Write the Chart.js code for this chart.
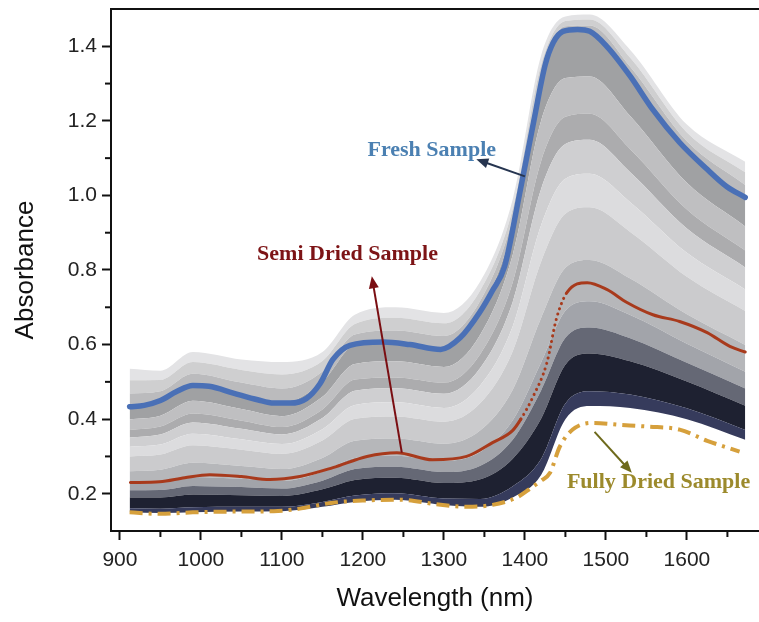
<!DOCTYPE html>
<html><head><meta charset="utf-8">
<script src="https://cdn.jsdelivr.net/npm/chart.js@4.4.1/dist/chart.umd.min.js"></script>
<style>html,body{margin:0;padding:0;background:#fff;}canvas{display:block}</style>
</head><body>
<canvas id="c" width="759" height="622"></canvas>
<script>
// ---- tick labels ----
const xTicks = [900, 1000, 1100, 1200, 1300, 1400, 1500, 1600];
const xMinorTicks = [950, 1050, 1150, 1250, 1350, 1450, 1550, 1650];
const yTicks = [0.2, 0.4, 0.6, 0.8, 1.0, 1.2, 1.4];
const yMinorTicks = [0.3, 0.5, 0.7, 0.9, 1.1, 1.3];

// ---- highlighted spectra ----
const freshX = [912, 930, 950, 970, 990, 1010, 1040, 1070, 1090, 1110, 1130, 1147, 1163, 1184, 1225, 1258, 1296, 1320, 1344, 1360, 1375, 1393, 1411, 1425, 1435, 1447, 1465, 1480, 1501, 1530, 1558, 1591, 1625, 1649, 1672];
const freshY = [0.433, 0.437, 0.450, 0.474, 0.490, 0.488, 0.470, 0.452, 0.443, 0.443, 0.455, 0.495, 0.560, 0.598, 0.607, 0.600, 0.587, 0.618, 0.686, 0.745, 0.810, 1.000, 1.200, 1.350, 1.410, 1.440, 1.445, 1.440, 1.400, 1.320, 1.230, 1.142, 1.070, 1.024, 0.995];

const semiX = [913, 949, 980, 1011, 1050, 1085, 1122, 1163, 1205, 1242, 1286, 1328, 1360, 1385, 1395, 1410, 1427, 1439, 1452, 1477, 1501, 1526, 1558, 1591, 1625, 1653, 1672];
const semiY = [0.230, 0.232, 0.243, 0.251, 0.246, 0.238, 0.246, 0.270, 0.300, 0.310, 0.291, 0.300, 0.337, 0.370, 0.400, 0.460, 0.550, 0.670, 0.740, 0.766, 0.748, 0.713, 0.680, 0.662, 0.632, 0.595, 0.580];

const driedX = [912, 950, 990, 1040, 1090, 1122, 1163, 1205, 1246, 1290, 1328, 1360, 1390, 1404, 1420, 1431, 1443, 1459, 1484, 1517, 1551, 1591, 1625, 1665];
const driedY = [0.150, 0.146, 0.150, 0.152, 0.153, 0.160, 0.176, 0.182, 0.184, 0.172, 0.165, 0.170, 0.190, 0.210, 0.235, 0.256, 0.326, 0.372, 0.390, 0.385, 0.380, 0.372, 0.342, 0.313];

// ---- background gray spectra (bottom to top) ----
const grayX = [912, 950, 990, 1050, 1100, 1150, 1190, 1240, 1300, 1345, 1385, 1420, 1450, 1480, 1530, 1600, 1672];
const gray00 = [0.150, 0.148, 0.150, 0.152, 0.153, 0.165, 0.178, 0.184, 0.170, 0.165, 0.190, 0.250, 0.400, 0.435, 0.430, 0.400, 0.345];
const gray01 = [0.161, 0.160, 0.164, 0.165, 0.165, 0.178, 0.195, 0.201, 0.187, 0.186, 0.220, 0.293, 0.442, 0.475, 0.466, 0.429, 0.371];
const gray02 = [0.190, 0.190, 0.198, 0.196, 0.194, 0.212, 0.237, 0.243, 0.229, 0.239, 0.294, 0.401, 0.546, 0.576, 0.555, 0.501, 0.436];
const gray03 = [0.209, 0.210, 0.221, 0.218, 0.214, 0.235, 0.266, 0.272, 0.258, 0.275, 0.345, 0.477, 0.618, 0.646, 0.617, 0.551, 0.482];
const gray04 = [0.229, 0.231, 0.245, 0.240, 0.234, 0.259, 0.296, 0.302, 0.288, 0.312, 0.397, 0.552, 0.691, 0.716, 0.679, 0.602, 0.527];
const gray05 = [0.260, 0.264, 0.283, 0.274, 0.266, 0.296, 0.342, 0.348, 0.334, 0.370, 0.479, 0.671, 0.806, 0.827, 0.777, 0.681, 0.599];
const gray06 = [0.300, 0.305, 0.330, 0.318, 0.307, 0.343, 0.401, 0.407, 0.393, 0.443, 0.582, 0.822, 0.951, 0.968, 0.902, 0.782, 0.690];
const gray07 = [0.326, 0.332, 0.361, 0.346, 0.333, 0.373, 0.438, 0.445, 0.430, 0.491, 0.649, 0.920, 1.045, 1.058, 0.982, 0.846, 0.748];
const gray08 = [0.351, 0.359, 0.391, 0.374, 0.359, 0.403, 0.476, 0.483, 0.468, 0.538, 0.715, 1.017, 1.138, 1.149, 1.062, 0.911, 0.807];
const gray09 = [0.371, 0.380, 0.415, 0.396, 0.379, 0.426, 0.506, 0.512, 0.498, 0.575, 0.767, 1.092, 1.211, 1.219, 1.124, 0.962, 0.852];
const gray10 = [0.399, 0.409, 0.449, 0.427, 0.408, 0.460, 0.548, 0.555, 0.540, 0.627, 0.841, 1.200, 1.315, 1.319, 1.213, 1.034, 0.917];
const gray11 = [0.433, 0.445, 0.490, 0.465, 0.443, 0.500, 0.598, 0.605, 0.590, 0.690, 0.915, 1.300, 1.440, 1.440, 1.320, 1.120, 0.995];
const gray12 = [0.469, 0.475, 0.522, 0.498, 0.482, 0.528, 0.627, 0.638, 0.623, 0.718, 0.940, 1.325, 1.454, 1.456, 1.345, 1.145, 1.028];
const gray13 = [0.504, 0.505, 0.553, 0.532, 0.520, 0.556, 0.655, 0.672, 0.657, 0.746, 0.964, 1.350, 1.468, 1.472, 1.369, 1.169, 1.062];
const gray14 = [0.535, 0.530, 0.580, 0.560, 0.553, 0.580, 0.680, 0.700, 0.685, 0.770, 0.990, 1.375, 1.480, 1.485, 1.390, 1.190, 1.090];

const grayCurves = [gray00, gray01, gray02, gray03, gray04, gray05, gray06, gray07, gray08, gray09, gray10, gray11, gray12, gray13, gray14];
const grayFills = [null, '#363b5c', '#1e2131', '#656875', '#a2a4aa', '#b6b7ba', '#cbcbcd', '#dcdcde', '#cfcfd1', '#acacae', '#bfbfc1', '#a0a1a3', '#bbbbbd', '#cfcfd0', '#e3e3e5'];

const toXY = (xs, ys) => xs.map((x, i) => ({x: x, y: ys[i]}));

const datasets = grayCurves.map((c, i) => ({
  data: toXY(grayX, c),
  fill: i === 0 ? false : '-1',
  backgroundColor: grayFills[i] || 'rgba(0,0,0,0)',
  borderWidth: 0,
  borderColor: 'rgba(0,0,0,0)',
  pointRadius: 0,
  cubicInterpolationMode: 'monotone',
  order: 10
}));

datasets.push({
  data: toXY(freshX, freshY), borderColor: '#4a70b6', borderWidth: 5.5,
  pointRadius: 0, fill: false, cubicInterpolationMode: 'monotone', borderCapStyle: 'round', order: 0
});
datasets.push({
  data: toXY(semiX, semiY), borderColor: '#a83a1c', borderWidth: 3,
  pointRadius: 0, fill: false, cubicInterpolationMode: 'monotone', borderCapStyle: 'round', order: 1,
  segment: { borderDash: ctx => (ctx.p0.parsed.x >= 1395 && ctx.p1.parsed.x <= 1452) ? [0.1, 5.5] : undefined }
});
datasets.push({
  data: toXY(driedX, driedY), borderColor: '#d6a03c', borderWidth: 4, borderDash: [13, 6, 3, 6],
  pointRadius: 0, fill: false, cubicInterpolationMode: 'monotone', order: 2
});

// annotation texts and arrows (data coordinates)
const notes = [
  { text: 'Fresh Sample', x: 1285, y: 1.105, color: '#4b80b2', from: [1400, 1.051], to: [1340, 1.097], arrow: '#263550' },
  { text: 'Semi Dried Sample', x: 1181, y: 0.828, color: '#7d1416', from: [1248, 0.310], to: [1211, 0.783], arrow: '#7a0e12' },
  { text: 'Fully Dried Sample', x: 1565, y: 0.216, color: '#9c8a2c', from: [1486, 0.366], to: [1532, 0.256], arrow: '#6e6a1c' }
];

const decor = {
  id: 'decor',
  afterDraw(chart) {
    const ctx = chart.ctx, a = chart.chartArea, xs = chart.scales.x, ys = chart.scales.y;
    ctx.save();
    ctx.strokeStyle = '#111'; ctx.lineWidth = 2;
    ctx.beginPath(); ctx.moveTo(a.left - 1, a.top); ctx.lineTo(a.right, a.top); ctx.stroke();
    xMinorTicks.forEach(v => { const p = xs.getPixelForValue(v); ctx.beginPath(); ctx.moveTo(p, a.bottom); ctx.lineTo(p, a.bottom + 6); ctx.stroke(); });
    yMinorTicks.forEach(v => { const p = ys.getPixelForValue(v); ctx.beginPath(); ctx.moveTo(a.left, p); ctx.lineTo(a.left - 6, p); ctx.stroke(); });
    notes.forEach(n => {
      const x0 = xs.getPixelForValue(n.from[0]), y0 = ys.getPixelForValue(n.from[1]);
      const x1 = xs.getPixelForValue(n.to[0]), y1 = ys.getPixelForValue(n.to[1]);
      const ang = Math.atan2(y1 - y0, x1 - x0), L = 12, W = 5;
      ctx.strokeStyle = n.arrow; ctx.fillStyle = n.arrow; ctx.lineWidth = 2;
      ctx.beginPath(); ctx.moveTo(x0, y0);
      ctx.lineTo(x1 - Math.cos(ang) * L * 0.8, y1 - Math.sin(ang) * L * 0.8); ctx.stroke();
      ctx.beginPath(); ctx.moveTo(x1, y1);
      ctx.lineTo(x1 - Math.cos(ang) * L + Math.sin(ang) * W, y1 - Math.sin(ang) * L - Math.cos(ang) * W);
      ctx.lineTo(x1 - Math.cos(ang) * L - Math.sin(ang) * W, y1 - Math.sin(ang) * L + Math.cos(ang) * W);
      ctx.closePath(); ctx.fill();
      ctx.font = 'bold 22px "Liberation Serif", "Times New Roman", serif';
      ctx.fillStyle = n.color; ctx.textAlign = 'center'; ctx.textBaseline = 'alphabetic';
      ctx.fillText(n.text, xs.getPixelForValue(n.x), ys.getPixelForValue(n.y));
    });
    ctx.restore();
  }
};

const tickFont = { family: '"Liberation Sans", Arial, sans-serif', size: 21 };
const titleFont = { family: '"Liberation Sans", Arial, sans-serif', size: 26 };

new Chart(document.getElementById('c'), {
  type: 'line',
  data: { datasets: datasets },
  options: {
    responsive: false, animation: false, devicePixelRatio: 1,
    layout: { padding: { top: 9, right: 0, left: 0, bottom: 0 } },
    plugins: { legend: { display: false }, tooltip: { enabled: false } },
    scales: {
      x: {
        type: 'linear', min: 889, max: 1689,
        afterBuildTicks: s => { s.ticks = xTicks.map(v => ({value: v})); },
        afterFit: s => { s.height = 91; s.paddingLeft = 0; s.paddingRight = 0; },
        ticks: { font: tickFont, color: '#222', padding: 8, maxRotation: 0, callback: v => String(v) },
        grid: { drawOnChartArea: false, drawTicks: true, tickLength: 9, tickWidth: 2, tickColor: '#111' },
        border: { color: '#111', width: 2 },
        title: { display: true, text: 'Wavelength (nm)', font: titleFont, color: '#111', padding: { top: 0, bottom: 8 } }
      },
      y: {
        type: 'linear', min: 0.1, max: 1.5,
        afterBuildTicks: s => { s.ticks = yTicks.map(v => ({value: v})); },
        afterFit: s => { s.width = 111; s.paddingTop = 0; s.paddingBottom = 0; },
        ticks: { font: tickFont, color: '#222', padding: 5, callback: v => Number(v).toFixed(1) },
        grid: { drawOnChartArea: false, drawTicks: true, tickLength: 9, tickWidth: 2, tickColor: '#111' },
        border: { color: '#111', width: 2 },
        title: { display: true, text: 'Absorbance', font: titleFont, color: '#111', padding: { top: 10, bottom: 0 } }
      }
    }
  },
  plugins: [decor]
});
</script>
</body></html>
